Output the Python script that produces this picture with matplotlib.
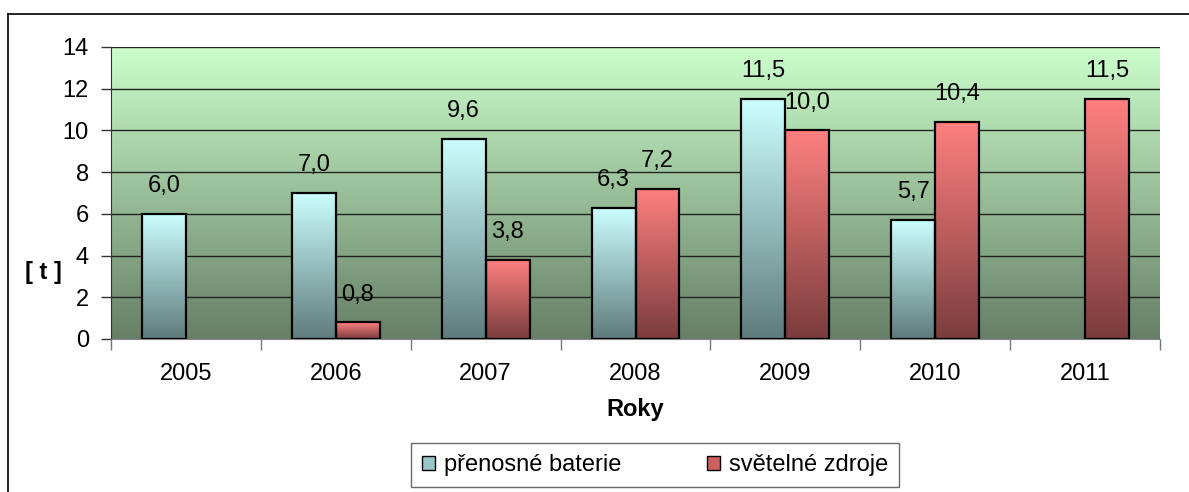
import numpy as np
import matplotlib
matplotlib.use("Agg")
import matplotlib.pyplot as plt
from matplotlib.colors import LinearSegmentedColormap
from matplotlib.patches import Patch
from matplotlib.lines import Line2D

plt.rcParams["font.family"] = ["Liberation Sans", "DejaVu Sans"]

years = ["2005", "2006", "2007", "2008", "2009", "2010", "2011"]
baterie = [6.0, 7.0, 9.6, 6.3, 11.5, 5.7, None]
zdroje = [None, 0.8, 3.8, 7.2, 10.0, 10.4, 11.5]
series_names = ["přenosné baterie", "světelné zdroje"]

bg_cmap = LinearSegmentedColormap.from_list("bg", ["#667f66", "#ccffcc"])
blue_cmap = LinearSegmentedColormap.from_list("blue", ["#5f7b7c", "#ccffff"])
red_cmap = LinearSegmentedColormap.from_list("red", ["#7a3c3c", "#ff8080"])

FS = 17

fig = plt.figure(figsize=(11.89, 4.92), dpi=100)
ax = fig.add_axes([0.0934, 0.311, 0.8822, 0.5935])

# outer chart border (clipped by the image on right and bottom)
fig.add_artist(Line2D([8 / 1189, 1.0], [1 - 14 / 492] * 2, color="black", lw=1.2))
fig.add_artist(Line2D([8 / 1189] * 2, [0.0, 1 - 14 / 492], color="black", lw=1.2))

n = len(years)
x = np.arange(n)
w = 0.293
ymax = 14

grad = np.linspace(0, 1, 256).reshape(-1, 1)
ax.imshow(grad, cmap=bg_cmap, aspect="auto", origin="lower",
          extent=[-0.5, n - 0.5, 0, ymax], zorder=0)

for yv in range(2, ymax + 1, 2):
    ax.axhline(yv, color="#222222", lw=1.0, zorder=1)


def grad_bars(xs, vals, cmap):
    for xi, v in zip(xs, vals):
        if v is None:
            continue
        bar = ax.bar(xi, v, width=w, align="edge", facecolor="none",
                     edgecolor="black", lw=1.6, zorder=3)[0]
        im = ax.imshow(grad, cmap=cmap, aspect="auto", origin="lower",
                       extent=[xi, xi + w, 0, v], zorder=2)
        im.set_clip_path(bar)
        ax.annotate(f"{v:.1f}".replace(".", ","), (xi + w / 2, v),
                    xytext=(0, 20), textcoords="offset points",
                    ha="center", va="center", fontsize=FS, zorder=4)


grad_bars(x - w, baterie, blue_cmap)
grad_bars(x, zdroje, red_cmap)

ax.set_xlim(-0.5, n - 0.5)
ax.set_ylim(0, ymax)

ax.set_yticks(range(0, ymax + 1, 2))
ax.set_yticklabels([str(v) for v in range(0, ymax + 1, 2)], fontsize=FS)
ax.set_xticks(x)
ax.set_xticklabels(years, fontsize=FS)
ax.tick_params(axis="x", length=0, pad=17)
ax.set_xticks(np.arange(-0.5, n, 1), minor=True)
ax.tick_params(axis="x", which="minor", length=8, color="#777777", width=1)
ax.tick_params(axis="y", length=7, width=1, color="#333333", pad=9)

for s in ["top", "right"]:
    ax.spines[s].set_visible(False)
ax.spines["left"].set_color("#333333")
ax.spines["bottom"].set_color("#888888")

ax.set_xlabel("Roky", fontsize=FS, fontweight="bold", labelpad=10)
fig.text(43 / 1189, 1 - 273 / 492, "[ t ]", fontsize=FS, fontweight="bold",
         ha="center", va="center")

handles = [Patch(facecolor="#99c6c8", edgecolor="black", lw=1),
           Patch(facecolor="#cc6060", edgecolor="black", lw=1)]
leg = fig.legend(handles, series_names, loc="center",
                 bbox_to_anchor=(655 / 1189, 1 - 465 / 492), ncol=2,
                 fontsize=FS, frameon=True, fancybox=False,
                 handlelength=0.55, handleheight=0.55, handletextpad=0.4,
                 columnspacing=3.6, borderpad=0.45)
leg.get_frame().set_edgecolor("#444444")
leg.get_frame().set_linewidth(1.0)

fig.savefig("out.png", dpi=100)
